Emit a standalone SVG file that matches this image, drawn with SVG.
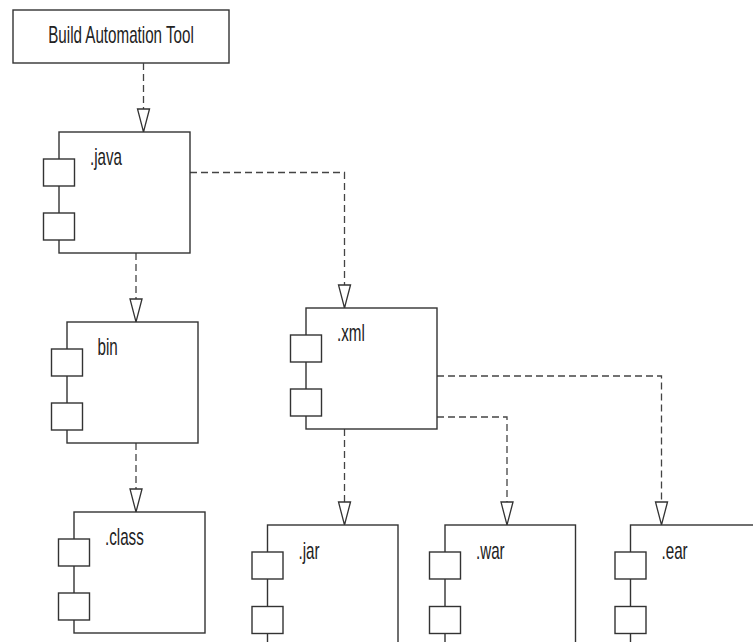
<svg xmlns="http://www.w3.org/2000/svg" width="753" height="642" viewBox="0 0 753 642">
  <style>
    .box { fill: #fff; stroke: #333; stroke-width: 1.4; }
    .tab { fill: #fff; stroke: #333; stroke-width: 1.4; }
    .lbl { font-family: "Liberation Sans", Arial, sans-serif; font-size: 23px; fill: #222; }
    .dep { fill: none; stroke: #444; stroke-width: 1.3; stroke-dasharray: 7,4; marker-end: url(#open); }
  </style>
  <defs>
    <marker id="open" markerUnits="userSpaceOnUse" markerWidth="26" markerHeight="14" refX="23" refY="6.5" orient="auto" overflow="visible">
      <path d="M0,0.5 L23,6.5 L0,12.5 Z" fill="#fff" stroke="#333" stroke-width="1.3"/>
    </marker>
  </defs>
  <rect width="753" height="642" fill="#fff"/>

  <g id="build-tool">
    <rect class="box" x="13" y="10" width="216" height="53"/>
    <text class="lbl" text-anchor="middle" transform="translate(121,42.5) scale(0.66,1)">Build Automation Tool</text>
  </g>

  <g id="connectors">
    <path class="dep" d="M143.5,63 V132"/>
    <path class="dep" d="M190,172.5 H344.5 V308"/>
    <path class="dep" d="M136,253 V322"/>
    <path class="dep" d="M136,443 V512"/>
    <path class="dep" d="M344.5,429 V525"/>
    <path class="dep" d="M437,376 H661.5 V525"/>
    <path class="dep" d="M437,417 H507 V525"/>
  </g>

  <g id="java">
    <rect class="box" x="59" y="132" width="131" height="121"/>
    <rect class="tab" x="43.5" y="159" width="31" height="27"/>
    <rect class="tab" x="43.5" y="213" width="31" height="27"/>
    <text class="lbl" transform="translate(90,165) scale(0.66,1)">.java</text>
  </g>

  <g id="bin">
    <rect class="box" x="67" y="322" width="131" height="121"/>
    <rect class="tab" x="51.5" y="349" width="31" height="27"/>
    <rect class="tab" x="51.5" y="403" width="31" height="27"/>
    <text class="lbl" transform="translate(97.5,354.5) scale(0.66,1)">bin</text>
  </g>

  <g id="class">
    <rect class="box" x="74" y="512" width="131" height="121"/>
    <rect class="tab" x="58.5" y="539" width="31" height="27"/>
    <rect class="tab" x="58.5" y="593" width="31" height="27"/>
    <text class="lbl" transform="translate(105,544.5) scale(0.66,1)">.class</text>
  </g>

  <g id="xml">
    <rect class="box" x="306" y="308" width="131" height="121"/>
    <rect class="tab" x="290.5" y="335" width="31" height="27"/>
    <rect class="tab" x="290.5" y="389" width="31" height="27"/>
    <text class="lbl" transform="translate(337,341) scale(0.66,1)">.xml</text>
  </g>

  <g id="jar">
    <rect class="box" x="267.5" y="525" width="130.5" height="130"/>
    <rect class="tab" x="252" y="552" width="31" height="27"/>
    <rect class="tab" x="252" y="606.5" width="31" height="27"/>
    <text class="lbl" transform="translate(298.5,559) scale(0.66,1)">.jar</text>
  </g>

  <g id="war">
    <rect class="box" x="445" y="525" width="130.5" height="130"/>
    <rect class="tab" x="429.5" y="552" width="31" height="27"/>
    <rect class="tab" x="429.5" y="606.5" width="31" height="27"/>
    <text class="lbl" transform="translate(476,559) scale(0.66,1)">.war</text>
  </g>

  <g id="ear">
    <rect class="box" x="630.5" y="525" width="131" height="130"/>
    <rect class="tab" x="615" y="552" width="31" height="27"/>
    <rect class="tab" x="615" y="606.5" width="31" height="27"/>
    <text class="lbl" transform="translate(661.5,559) scale(0.66,1)">.ear</text>
  </g>
</svg>
